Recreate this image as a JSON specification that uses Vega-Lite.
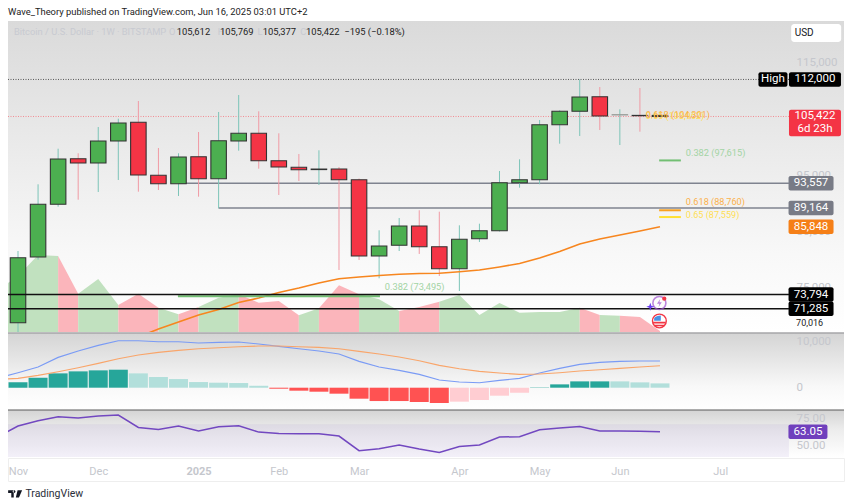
{
  "$schema": "https://vega.github.io/schema/vega-lite/v6.json",
  "padding": {"left": 7, "right": 7, "top": 7, "bottom": 0},
  "background": "white",
  "spacing": 0,
  "config": {
    "font": "Roboto",
    "view": {"stroke": null},
    "concat": {"spacing": 0},
    "text": {"font": "Roboto"}
  },
  "datasets": {
    "candles": [
      {"date": "2024-11-04", "open": 68792, "high": 81527, "low": 66900, "close": 80337, "dir": "up", "ma": null},
      {"date": "2024-11-11", "open": 80462, "high": 93375, "low": 80000, "close": 89822, "dir": "up", "ma": null},
      {"date": "2024-11-18", "open": 89822, "high": 99700, "low": 89396, "close": 97869, "dir": "up", "ma": null},
      {"date": "2024-11-25", "open": 97922, "high": 98880, "low": 90640, "close": 97158, "dir": "down", "ma": null},
      {"date": "2024-12-02", "open": 97158, "high": 103552, "low": 92007, "close": 101066, "dir": "up", "ma": null},
      {"date": "2024-12-09", "open": 101066, "high": 105027, "low": 94139, "close": 104263, "dir": "up", "ma": null},
      {"date": "2024-12-16", "open": 104387, "high": 108170, "low": 92060, "close": 95027, "dir": "down", "ma": 66250},
      {"date": "2024-12-23", "open": 94973, "high": 99822, "low": 92362, "close": 93481, "dir": "down", "ma": 67675},
      {"date": "2024-12-30", "open": 93481, "high": 98880, "low": 91297, "close": 98224, "dir": "up", "ma": 68920},
      {"date": "2025-01-06", "open": 98277, "high": 102664, "low": 91172, "close": 94369, "dir": "down", "ma": 70160},
      {"date": "2025-01-13", "open": 94369, "high": 106217, "low": 89112, "close": 101119, "dir": "up", "ma": 71140},
      {"date": "2025-01-20", "open": 101066, "high": 109236, "low": 99343, "close": 102433, "dir": "up", "ma": 72380},
      {"date": "2025-01-27", "open": 102433, "high": 106341, "low": 96146, "close": 97567, "dir": "down", "ma": 73180},
      {"date": "2025-02-03", "open": 97567, "high": 102433, "low": 91474, "close": 96447, "dir": "down", "ma": 74160},
      {"date": "2025-02-10", "open": 96394, "high": 98757, "low": 93961, "close": 95968, "dir": "down", "ma": 74960},
      {"date": "2025-02-17", "open": 95990, "high": 99414, "low": 93250, "close": 96080, "dir": "up", "ma": 75850},
      {"date": "2025-02-24", "open": 96092, "high": 96447, "low": 78153, "close": 94192, "dir": "down", "ma": 76610},
      {"date": "2025-03-03", "open": 94192, "high": 94400, "low": 79929, "close": 80639, "dir": "down", "ma": 76910},
      {"date": "2025-03-10", "open": 80639, "high": 85204, "low": 76678, "close": 82416, "dir": "up", "ma": 77180},
      {"date": "2025-03-17", "open": 82540, "high": 87389, "low": 81527, "close": 85968, "dir": "up", "ma": 77390},
      {"date": "2025-03-24", "open": 85968, "high": 88757, "low": 81000, "close": 82291, "dir": "down", "ma": 77520},
      {"date": "2025-03-31", "open": 82291, "high": 88508, "low": 77087, "close": 78384, "dir": "down", "ma": 77570},
      {"date": "2025-04-07", "open": 78384, "high": 86092, "low": 74423, "close": 83606, "dir": "up", "ma": 77850},
      {"date": "2025-04-14", "open": 83712, "high": 86376, "low": 83126, "close": 85133, "dir": "up", "ma": 78150},
      {"date": "2025-04-21", "open": 85133, "high": 95737, "low": 85000, "close": 93659, "dir": "up", "ma": 78690},
      {"date": "2025-04-28", "open": 93659, "high": 97815, "low": 92771, "close": 94192, "dir": "up", "ma": 79310},
      {"date": "2025-05-05", "open": 94192, "high": 104796, "low": 93375, "close": 103961, "dir": "up", "ma": 80290},
      {"date": "2025-05-12", "open": 103961, "high": 106519, "low": 100586, "close": 106341, "dir": "up", "ma": 81440},
      {"date": "2025-05-19", "open": 106341, "high": 112000, "low": 101954, "close": 108881, "dir": "up", "ma": 82770},
      {"date": "2025-05-26", "open": 108935, "high": 110657, "low": 103020, "close": 105506, "dir": "down", "ma": 83660},
      {"date": "2025-06-02", "open": 105737, "high": 106696, "low": 100355, "close": 105700, "dir": "up", "ma": 84370},
      {"date": "2025-06-09", "open": 105612, "high": 110480, "low": 102717, "close": 105560, "dir": "down", "ma": 85080},
      {"date": "2025-06-16", "open": 105612, "high": 105769, "low": 105377, "close": 105422, "dir": "down", "ma": 85848}
    ],
    "volume": [
      {"date": "2024-10-28", "vol": 42, "seg": 1, "dir": "up"},
      {"date": "2024-11-04", "vol": 56, "seg": 1, "dir": "up"},
      {"date": "2024-11-11", "vol": 77, "seg": 1, "dir": "up"},
      {"date": "2024-11-18", "vol": 76, "seg": 1, "dir": "up"},
      {"date": "2024-11-18", "vol": 76, "seg": 2, "dir": "down"},
      {"date": "2024-11-25", "vol": 38.3, "seg": 2, "dir": "down"},
      {"date": "2024-11-25", "vol": 38.3, "seg": 3, "dir": "up"},
      {"date": "2024-12-02", "vol": 53, "seg": 3, "dir": "up"},
      {"date": "2024-12-09", "vol": 27, "seg": 3, "dir": "up"},
      {"date": "2024-12-09", "vol": 27, "seg": 4, "dir": "down"},
      {"date": "2024-12-16", "vol": 38.3, "seg": 4, "dir": "down"},
      {"date": "2024-12-23", "vol": 24.3, "seg": 4, "dir": "down"},
      {"date": "2024-12-23", "vol": 24.3, "seg": 5, "dir": "up"},
      {"date": "2024-12-30", "vol": 17.7, "seg": 5, "dir": "up"},
      {"date": "2024-12-30", "vol": 17.7, "seg": 6, "dir": "down"},
      {"date": "2025-01-06", "vol": 25, "seg": 6, "dir": "down"},
      {"date": "2025-01-06", "vol": 25, "seg": 7, "dir": "up"},
      {"date": "2025-01-13", "vol": 34.3, "seg": 7, "dir": "up"},
      {"date": "2025-01-20", "vol": 37.7, "seg": 7, "dir": "up"},
      {"date": "2025-01-20", "vol": 37.7, "seg": 8, "dir": "down"},
      {"date": "2025-01-27", "vol": 29.3, "seg": 8, "dir": "down"},
      {"date": "2025-02-03", "vol": 31, "seg": 8, "dir": "down"},
      {"date": "2025-02-10", "vol": 16.7, "seg": 8, "dir": "down"},
      {"date": "2025-02-10", "vol": 16.7, "seg": 9, "dir": "up"},
      {"date": "2025-02-17", "vol": 23.7, "seg": 9, "dir": "up"},
      {"date": "2025-02-17", "vol": 23.7, "seg": 10, "dir": "down"},
      {"date": "2025-02-24", "vol": 46.7, "seg": 10, "dir": "down"},
      {"date": "2025-03-03", "vol": 37.7, "seg": 10, "dir": "down"},
      {"date": "2025-03-03", "vol": 37.7, "seg": 11, "dir": "up"},
      {"date": "2025-03-10", "vol": 32.7, "seg": 11, "dir": "up"},
      {"date": "2025-03-17", "vol": 21, "seg": 11, "dir": "up"},
      {"date": "2025-03-17", "vol": 21, "seg": 12, "dir": "down"},
      {"date": "2025-03-24", "vol": 25, "seg": 12, "dir": "down"},
      {"date": "2025-03-31", "vol": 30.3, "seg": 12, "dir": "down"},
      {"date": "2025-03-31", "vol": 30.3, "seg": 13, "dir": "up"},
      {"date": "2025-04-07", "vol": 37, "seg": 13, "dir": "up"},
      {"date": "2025-04-14", "vol": 17, "seg": 13, "dir": "up"},
      {"date": "2025-04-21", "vol": 29, "seg": 13, "dir": "up"},
      {"date": "2025-04-28", "vol": 19.3, "seg": 13, "dir": "up"},
      {"date": "2025-05-05", "vol": 20, "seg": 13, "dir": "up"},
      {"date": "2025-05-12", "vol": 20, "seg": 13, "dir": "up"},
      {"date": "2025-05-19", "vol": 24.3, "seg": 13, "dir": "up"},
      {"date": "2025-05-19", "vol": 24.3, "seg": 14, "dir": "down"},
      {"date": "2025-05-26", "vol": 17, "seg": 14, "dir": "down"},
      {"date": "2025-05-26", "vol": 17, "seg": 15, "dir": "up"},
      {"date": "2025-06-02", "vol": 16.3, "seg": 15, "dir": "up"},
      {"date": "2025-06-02", "vol": 16.3, "seg": 16, "dir": "down"},
      {"date": "2025-06-09", "vol": 15, "seg": 16, "dir": "down"},
      {"date": "2025-06-16", "vol": 1, "seg": 16, "dir": "down"}
    ],
    "levels": [
      {"from": "2024-12-30", "to": "2025-07-31", "level": 93557},
      {"from": "2025-01-13", "to": "2025-07-31", "level": 89164}
    ],
    "supports": [
      {"from": "2024-10-31T12:15:00Z", "to": "2025-07-31", "level": 73794},
      {"from": "2024-10-31T12:15:00Z", "to": "2025-07-31", "level": 71285}
    ],
    "fib": [
      {"from": "2024-12-29T19:00:00Z", "to": "2025-03-10T07:00:00Z", "level": 73495, "ratio": "0.382"},
      {"from": "2025-06-15T17:00:00Z", "to": "2025-06-23T07:00:00Z", "level": 97615, "ratio": "0.382"},
      {"from": "2025-06-15T17:00:00Z", "to": "2025-06-23T07:00:00Z", "level": 88760, "ratio": "0.618"},
      {"from": "2025-06-15T17:00:00Z", "to": "2025-06-23T07:00:00Z", "level": 87559, "ratio": "0.65"}
    ],
    "notes": [
      {"date": "2024-10-31T12:15:00Z", "price": 123960, "text": "Wave_Theory published on TradingView.com, Jun 16, 2025 03:01 UTC+2", "kind": "ink"},
      {"date": "2024-11-02T14:24:00Z", "price": 120426, "text": "Bitcoin / U.S. Dollar · 1W · BITSTAMP", "kind": "muted"},
      {"date": "2024-12-26T17:00:00Z", "price": 120426, "text": "O", "kind": "muted"},
      {"date": "2024-12-29T09:00:00Z", "price": 120426, "text": "105,612", "kind": "ink"},
      {"date": "2025-01-12T17:00:00Z", "price": 120426, "text": "H", "kind": "muted"},
      {"date": "2025-01-13T12:00:00Z", "price": 120426, "text": "105,769", "kind": "ink"},
      {"date": "2025-01-26T14:00:00Z", "price": 120426, "text": "L", "kind": "muted"},
      {"date": "2025-01-28T09:00:00Z", "price": 120426, "text": "105,377", "kind": "ink"},
      {"date": "2025-02-10T12:00:00Z", "price": 120426, "text": "C", "kind": "muted"},
      {"date": "2025-02-12T12:00:00Z", "price": 120426, "text": "105,422", "kind": "ink"},
      {"date": "2025-02-25T21:00:00Z", "price": 120426, "text": "−195 (−0.18%)", "kind": "ink"},
      {"date": "2025-03-12T00:00:00Z", "price": 75090, "text": "0.382 (73,495)", "kind": "green"},
      {"date": "2025-06-25T00:00:00Z", "price": 98930, "text": "0.382 (97,615)", "kind": "green"},
      {"date": "2025-06-11T00:00:00Z", "price": 105500, "text": "0.65 (103,962)", "kind": "yellow"},
      {"date": "2025-06-11T00:00:00Z", "price": 105600, "text": "0.618 (104,301)", "kind": "orange"},
      {"date": "2025-06-25T00:00:00Z", "price": 87900, "text": "0.65 (87,559)", "kind": "yellow"},
      {"date": "2025-06-25T00:00:00Z", "price": 90230, "text": "0.618 (88,760)", "kind": "orange"},
      {"date": "2025-08-02T12:00:00Z", "price": 68742, "text": "70,016", "kind": "axis"}
    ],
    "tags": [
      {"label": "93,557", "price": 93557, "tag": "level"},
      {"label": "89,164", "price": 89164, "tag": "level"},
      {"label": "85,848", "price": 85848, "tag": "ma"},
      {"label": "73,794", "price": 73794, "tag": "support"},
      {"label": "71,285", "price": 71285, "tag": "support"}
    ],
    "macd": [
      {"date": "2024-10-28", "macd": 2100, "signal": 1810},
      {"date": "2024-11-04", "macd": 3260, "signal": 2030, "hist": 1160, "shade": "up"},
      {"date": "2024-11-11", "macd": 4490, "signal": 2680, "hist": 2170, "shade": "up"},
      {"date": "2024-11-18", "macd": 6590, "signal": 3480, "hist": 3115, "shade": "up"},
      {"date": "2024-11-25", "macd": 7970, "signal": 4350, "hist": 3550, "shade": "up"},
      {"date": "2024-12-02", "macd": 9200, "signal": 5290, "hist": 3770, "shade": "up"},
      {"date": "2024-12-09", "macd": 10220, "signal": 6300, "hist": 3910, "shade": "up"},
      {"date": "2024-12-16", "macd": 10220, "signal": 7100, "hist": 3115, "shade": "upfade"},
      {"date": "2024-12-23", "macd": 10000, "signal": 7680, "hist": 2320, "shade": "upfade"},
      {"date": "2024-12-30", "macd": 10000, "signal": 8115, "hist": 1880, "shade": "upfade"},
      {"date": "2025-01-06", "macd": 9710, "signal": 8480, "hist": 1230, "shade": "upfade"},
      {"date": "2025-01-13", "macd": 9850, "signal": 8695, "hist": 1090, "shade": "upfade"},
      {"date": "2025-01-20", "macd": 9930, "signal": 8910, "hist": 1015, "shade": "upfade"},
      {"date": "2025-01-27", "macd": 9490, "signal": 9060, "hist": 435, "shade": "upfade"},
      {"date": "2025-02-03", "macd": 8985, "signal": 9060, "hist": -220, "shade": "down"},
      {"date": "2025-02-10", "macd": 8480, "signal": 8910, "hist": -650, "shade": "down"},
      {"date": "2025-02-17", "macd": 7970, "signal": 8770, "hist": -870, "shade": "down"},
      {"date": "2025-02-24", "macd": 7320, "signal": 8480, "hist": -1300, "shade": "down"},
      {"date": "2025-03-03", "macd": 5720, "signal": 7900, "hist": -2390, "shade": "down"},
      {"date": "2025-03-10", "macd": 4490, "signal": 7320, "hist": -2900, "shade": "down"},
      {"date": "2025-03-17", "macd": 3770, "signal": 6670, "hist": -2900, "shade": "down"},
      {"date": "2025-03-24", "macd": 2900, "signal": 5870, "hist": -3115, "shade": "down"},
      {"date": "2025-03-31", "macd": 1670, "signal": 4855, "hist": -3330, "shade": "down"},
      {"date": "2025-04-07", "macd": 1230, "signal": 4130, "hist": -3040, "shade": "downfade"},
      {"date": "2025-04-14", "macd": 1090, "signal": 3550, "hist": -2680, "shade": "downfade"},
      {"date": "2025-04-21", "macd": 1590, "signal": 3190, "hist": -1740, "shade": "downfade"},
      {"date": "2025-04-28", "macd": 2030, "signal": 2900, "hist": -1090, "shade": "downfade"},
      {"date": "2025-05-05", "macd": 3190, "signal": 2970, "hist": 70, "shade": "up"},
      {"date": "2025-05-12", "macd": 4200, "signal": 3260, "hist": 725, "shade": "up"},
      {"date": "2025-05-19", "macd": 5070, "signal": 3620, "hist": 1375, "shade": "up"},
      {"date": "2025-05-26", "macd": 5510, "signal": 3910, "hist": 1375, "shade": "up"},
      {"date": "2025-06-02", "macd": 5720, "signal": 4200, "hist": 1375, "shade": "upfade"},
      {"date": "2025-06-09", "macd": 5800, "signal": 4490, "hist": 1160, "shade": "upfade"},
      {"date": "2025-06-16", "macd": 5800, "signal": 4780, "hist": 940, "shade": "upfade"}
    ],
    "rsi": [
      {"date": "2024-10-28", "rsi": 58.4},
      {"date": "2024-11-04", "rsi": 68.35},
      {"date": "2024-11-11", "rsi": 73.35},
      {"date": "2024-11-18", "rsi": 77.1},
      {"date": "2024-11-25", "rsi": 75.8},
      {"date": "2024-12-02", "rsi": 77.7},
      {"date": "2024-12-09", "rsi": 78.65},
      {"date": "2024-12-16", "rsi": 67.1},
      {"date": "2024-12-23", "rsi": 65.2},
      {"date": "2024-12-30", "rsi": 68.35},
      {"date": "2025-01-06", "rsi": 63.7},
      {"date": "2025-01-13", "rsi": 67.7},
      {"date": "2025-01-20", "rsi": 68.7},
      {"date": "2025-01-27", "rsi": 62.7},
      {"date": "2025-02-03", "rsi": 61.5},
      {"date": "2025-02-10", "rsi": 61.2},
      {"date": "2025-02-17", "rsi": 61.2},
      {"date": "2025-02-24", "rsi": 59},
      {"date": "2025-03-03", "rsi": 45.3},
      {"date": "2025-03-10", "rsi": 47.1},
      {"date": "2025-03-17", "rsi": 50.6},
      {"date": "2025-03-24", "rsi": 46.8},
      {"date": "2025-03-31", "rsi": 43.7},
      {"date": "2025-04-07", "rsi": 49.3},
      {"date": "2025-04-14", "rsi": 50.6},
      {"date": "2025-04-21", "rsi": 58.1},
      {"date": "2025-04-28", "rsi": 58.4},
      {"date": "2025-05-05", "rsi": 64.9},
      {"date": "2025-05-12", "rsi": 66.5},
      {"date": "2025-05-19", "rsi": 68},
      {"date": "2025-05-26", "rsi": 63.7},
      {"date": "2025-06-02", "rsi": 63.7},
      {"date": "2025-06-09", "rsi": 63.4},
      {"date": "2025-06-16", "rsi": 63.05}
    ]
  },
  "vconcat": [
    {
      "width": 836,
      "height": 311,
      "view": {"stroke": null, "fill": {"gradient": "linear", "x1": 0, "y1": 0, "x2": 0, "y2": 1, "stops": [{"offset": 0, "color": "#dadada"}, {"offset": 0.75, "color": "#f8f8f8"}, {"offset": 1, "color": "#ffffff"}]}},
      "resolve": {"scale": {"y": "independent", "color": "independent"}},
      "layer": [
        {
          "data": {"name": "volume"},
          "mark": {"type": "area", "clip": true},
          "encoding": {
            "x": {"field": "date", "type": "temporal", "axis": null, "scale": {"type": "utc", "nice": false, "padding": 0, "domain": ["2024-10-31T12:15:00Z", "2025-08-19T05:00:00Z"]}},
            "y": {"field": "vol", "type": "quantitative", "axis": null, "stack": null, "scale": {"domain": [0, 311], "nice": false}},
            "detail": {"field": "seg"},
            "color": {"field": "dir", "type": "nominal", "legend": null, "scale": {"domain": ["up", "down"], "range": ["#c1e1bf", "#fbb5bb"]}}
          }
        },
        {
          "resolve": {"scale": {"color": "independent"}},
          "layer": [
            {
              "data": {"name": "levels"},
              "mark": {"type": "rule", "color": "#7f838f", "strokeWidth": 1.4},
              "encoding": {
                "x": {"field": "from", "type": "temporal", "axis": null, "scale": {"type": "utc", "nice": false, "padding": 0, "domain": ["2024-10-31T12:15:00Z", "2025-08-19T05:00:00Z"]}},
                "x2": {"field": "to"},
                "y": {
                  "field": "level", "type": "quantitative",
                  "scale": {"domain": [67140, 122380], "nice": false, "zero": false},
                  "axis": {"orient": "right", "offset": -48, "title": null, "domain": false, "ticks": false, "grid": false, "labelPadding": 0, "labelColor": "#c5c7cd", "labelFontSize": 11.5, "labelOverlap": false, "format": ",d", "values": [115000, 110000, 105000, 100000, 95000, 90000, 85000, 80000, 75000]}
                }
              }
            },
            {
              "data": {"values": [{"date": "2024-10-31T12:15:00Z", "to": "2025-07-31", "price": 112000}]},
              "mark": {"type": "rule", "color": "#555", "strokeWidth": 1, "strokeDash": [1, 1.5]},
              "encoding": {"x": {"field": "date", "type": "temporal"}, "x2": {"field": "to"}, "y": {"field": "price", "type": "quantitative"}}
            },
            {
              "data": {"values": [{"date": "2024-10-31T12:15:00Z", "to": "2025-07-31", "price": 105422}]},
              "mark": {"type": "rule", "color": "#f28b93", "strokeWidth": 1, "strokeDash": [1, 1.5]},
              "encoding": {"x": {"field": "date", "type": "temporal"}, "x2": {"field": "to"}, "y": {"field": "price", "type": "quantitative"}}
            },
            {
              "data": {"name": "candles"},
              "mark": {"type": "rule", "strokeWidth": 1, "clip": true},
              "encoding": {
                "x": {"field": "date", "type": "temporal"},
                "y": {"field": "low", "type": "quantitative"},
                "y2": {"field": "high"},
                "color": {"field": "dir", "type": "nominal", "legend": null, "scale": {"domain": ["up", "down"], "range": ["#7cc4b8", "#f09aa4"]}}
              }
            },
            {
              "data": {"name": "candles"},
              "mark": {"type": "bar", "width": 15.5, "strokeWidth": 1.1},
              "encoding": {
                "x": {"field": "date", "type": "temporal"},
                "y": {"field": "open", "type": "quantitative"},
                "y2": {"field": "close"},
                "color": {"field": "dir", "type": "nominal", "legend": null, "scale": {"domain": ["up", "down"], "range": ["#4caf50", "#f43445"]}},
                "stroke": {"condition": {"test": "year(datum.date) == 2025 && month(datum.date) == 5 && utcdate(datum.date) == 2", "value": "#9a9a9a"}, "value": "#333333"}
              }
            },
            {
              "data": {"name": "candles"},
              "mark": {"type": "line", "color": "#f7861f", "strokeWidth": 1.6, "clip": true},
              "encoding": {"x": {"field": "date", "type": "temporal"}, "y": {"field": "ma", "type": "quantitative"}}
            },
            {
              "data": {"name": "fib"},
              "mark": {"type": "rule", "strokeWidth": 2},
              "encoding": {
                "x": {"field": "from", "type": "temporal"},
                "x2": {"field": "to"},
                "y": {"field": "level", "type": "quantitative"},
                "color": {"field": "ratio", "type": "nominal", "legend": null, "scale": {"domain": ["0.382", "0.618", "0.65"], "range": ["#72bf73", "#f9a11f", "#ffe033"]}}
              }
            },
            {
              "data": {"name": "supports"},
              "mark": {"type": "rule", "color": "#111111", "strokeWidth": 1.5},
              "encoding": {"x": {"field": "from", "type": "temporal"}, "x2": {"field": "to"}, "y": {"field": "level", "type": "quantitative"}}
            },
            {
              "data": {"name": "notes"},
              "mark": {"type": "text", "align": "left", "baseline": "middle"},
              "encoding": {
                "x": {"field": "date", "type": "temporal"},
                "y": {"field": "price", "type": "quantitative"},
                "text": {"field": "text"},
                "color": {"field": "kind", "type": "nominal", "legend": null, "scale": {"domain": ["ink", "muted", "green", "orange", "yellow", "axis"], "range": ["#222222", "#c8cad1", "#a3d4a4", "#fbb04a", "#ffdf55", "#222222"]}},
                "size": {"field": "kind", "type": "nominal", "legend": null, "scale": {"domain": ["ink", "muted", "green", "orange", "yellow", "axis"], "range": [9.4, 9, 10, 10, 10, 11.5]}}
              }
            },
            {
              "data": {"name": "tags"},
              "mark": {"type": "rect", "width": 45, "height": 14.5, "cornerRadius": 2},
              "encoding": {
                "x": {"datum": {"year": 2025, "month": 8, "date": 7, "hours": 17, "utc": true}, "type": "temporal"},
                "y": {"field": "price", "type": "quantitative"},
                "color": {"field": "tag", "type": "nominal", "legend": null, "scale": {"domain": ["level", "ma", "support"], "range": ["#787b86", "#f57f17", "#000000"]}}
              }
            },
            {
              "data": {"name": "tags"},
              "mark": {"type": "text", "color": "#ffffff", "fontSize": 11.5},
              "encoding": {
                "x": {"datum": {"year": 2025, "month": 8, "date": 7, "hours": 17, "utc": true}, "type": "temporal"},
                "y": {"field": "price", "type": "quantitative"},
                "text": {"field": "label"}
              }
            },
            {
              "data": {"values": [{"label": "112,000", "price": 112000}]},
              "layer": [
                {"mark": {"type": "rect", "width": 52, "height": 14.5, "cornerRadius": 2, "color": "#000000"}},
                {"mark": {"type": "text", "color": "#ffffff", "fontSize": 11.5}, "encoding": {"text": {"field": "label"}}}
              ],
              "encoding": {
                "x": {"datum": {"year": 2025, "month": 8, "date": 9, "hours": 2, "utc": true}, "type": "temporal"},
                "y": {"field": "price", "type": "quantitative"}
              }
            },
            {
              "data": {"values": [{"label": "High", "price": 112000}]},
              "layer": [
                {"mark": {"type": "rect", "width": 29, "height": 14.5, "cornerRadius": 2, "color": "#000000"}},
                {"mark": {"type": "text", "color": "#ffffff", "fontSize": 11.5}, "encoding": {"text": {"field": "label"}}}
              ],
              "encoding": {
                "x": {"datum": {"year": 2025, "month": 7, "date": 25, "hours": 10, "utc": true}, "type": "temporal"},
                "y": {"field": "price", "type": "quantitative"}
              }
            },
            {
              "data": {"values": [{"price": 104263}]},
              "mark": {"type": "rect", "width": 52, "height": 26.5, "cornerRadius": 2, "color": "#f43445"},
              "encoding": {
                "x": {"datum": {"year": 2025, "month": 8, "date": 9, "hours": 2, "utc": true}, "type": "temporal"},
                "y": {"field": "price", "type": "quantitative"}
              }
            },
            {
              "data": {"values": [{"label": "105,422", "price": 105422}, {"label": "6d 23h", "price": 103200}]},
              "mark": {"type": "text", "color": "#ffffff", "fontSize": 11.5},
              "encoding": {
                "x": {"datum": {"year": 2025, "month": 8, "date": 9, "hours": 2, "utc": true}, "type": "temporal"},
                "y": {"field": "price", "type": "quantitative"},
                "text": {"field": "label"}
              }
            },
            {
              "data": {"values": [{"label": "USD", "price": 120250}]},
              "layer": [
                {"mark": {"type": "rect", "width": 50, "height": 18, "cornerRadius": 3, "color": "#ffffff"}},
                {"mark": {"type": "text", "color": "#131722", "fontSize": 10, "dx": -12}, "encoding": {"text": {"field": "label"}}}
              ],
              "encoding": {
                "x": {"datum": {"year": 2025, "month": 8, "date": 9, "hours": 12, "utc": true}, "type": "temporal"},
                "y": {"field": "price", "type": "quantitative"}
              }
            },
            {
              "data": {"values": [{"date": "2025-06-15T19:00:00Z", "price": 72294}]},
              "layer": [
                {"mark": {"type": "point", "shape": "circle", "size": 170, "filled": false, "color": "#a155d1", "strokeWidth": 1.6}},
                {"mark": {"type": "point", "shape": "M0.2 -1L-0.6 0.2H0L-0.2 1L0.6 -0.2H0Z", "size": 64, "filled": true, "color": "#9c4fd0"}}
              ],
              "encoding": {"x": {"field": "date", "type": "temporal"}, "y": {"field": "price", "type": "quantitative"}}
            },
            {
              "data": {"values": [{"date": "2025-06-17T12:00:00Z", "price": 73058}]},
              "mark": {"type": "point", "shape": "circle", "size": 18, "filled": true, "color": "#f23645", "opacity": 1},
              "encoding": {"x": {"field": "date", "type": "temporal"}, "y": {"field": "price", "type": "quantitative"}}
            },
            {
              "data": {"values": [{"date": "2025-06-12T15:00:00Z", "price": 71638}]},
              "mark": {"type": "point", "shape": "M0 -1L0.25 -0.25L1 0L0.25 0.25L0 1L-0.25 0.25L-1 0L-0.25 -0.25Z", "size": 64, "filled": true, "color": "#6a3df0", "opacity": 1},
              "encoding": {"x": {"field": "date", "type": "temporal"}, "y": {"field": "price", "type": "quantitative"}}
            },
            {
              "data": {"values": [{"date": "2025-06-15T19:00:00Z", "price": 69098}]},
              "layer": [
                {"mark": {"type": "point", "shape": "circle", "size": 190, "filled": true, "fill": "#ffffff", "stroke": "#f23645", "strokeWidth": 1.4, "opacity": 1}},
                {"mark": {"type": "point", "shape": "M-0.9 0.1H0.9V0.35H-0.9ZM-0.7 0.55H0.7V0.75H-0.7Z", "size": 196, "filled": true, "color": "#f23645", "opacity": 1}},
                {"mark": {"type": "point", "shape": "M-0.75 -0.05V-0.4Q-0.45 -0.8 0.2 -0.8V-0.05Z", "size": 196, "filled": true, "color": "#4a90e2", "opacity": 1}}
              ],
              "encoding": {"x": {"field": "date", "type": "temporal"}, "y": {"field": "price", "type": "quantitative"}}
            }
          ]
        }
      ]
    },
    {
      "width": 836,
      "height": 76,
      "view": {"stroke": null, "fill": {"gradient": "linear", "x1": 0, "y1": 0, "x2": 0, "y2": 1, "stops": [{"offset": 0, "color": "#d4d4d4"}, {"offset": 0.7, "color": "#f8f8f8"}, {"offset": 1, "color": "#ffffff"}]}},
      "data": {"name": "macd"},
      "layer": [
        {
          "mark": {"type": "bar", "width": 19},
          "encoding": {
            "x": {"field": "date", "type": "temporal", "axis": null, "scale": {"type": "utc", "nice": false, "padding": 0, "domain": ["2024-10-31T12:15:00Z", "2025-08-19T05:00:00Z"]}},
            "y": {
              "field": "hist", "type": "quantitative",
              "scale": {"domain": [-4630, 11890], "nice": false, "zero": false},
              "axis": {"orient": "right", "offset": -48, "title": null, "domain": false, "ticks": false, "grid": false, "labelPadding": 0, "labelColor": "#c5c7cd", "labelFontSize": 11.5, "labelOverlap": false, "format": ",d", "values": [10000, 0]}
            },
            "y2": {"datum": 0},
            "color": {"field": "shade", "type": "nominal", "legend": null, "scale": {"domain": ["up", "upfade", "down", "downfade"], "range": ["#26a69a", "#b2dfdb", "#ff5252", "#ffcdd2"]}}
          }
        },
        {
          "mark": {"type": "line", "color": "#7a9bf5", "strokeWidth": 1.1, "clip": true},
          "encoding": {"x": {"field": "date", "type": "temporal"}, "y": {"field": "macd", "type": "quantitative"}}
        },
        {
          "mark": {"type": "line", "color": "#f9a56a", "strokeWidth": 1.1, "clip": true},
          "encoding": {"x": {"field": "date", "type": "temporal"}, "y": {"field": "signal", "type": "quantitative"}}
        },
        {
          "data": {"values": [{"top": 11890}]},
          "mark": {"type": "rule", "color": "#a6a6a8", "strokeWidth": 1.6},
          "encoding": {"y": {"field": "top", "type": "quantitative"}}
        }
      ]
    },
    {
      "width": 836,
      "height": 47,
      "view": {"stroke": null, "fill": {"gradient": "linear", "x1": 0, "y1": 0, "x2": 0, "y2": 1, "stops": [{"offset": 0, "color": "#d4d4d4"}, {"offset": 0.4, "color": "#ececec"}, {"offset": 1, "color": "#ffffff"}]}},
      "layer": [
        {
          "data": {"values": [{"from": "2024-10-31T12:15:00Z", "to": "2025-07-31", "upper": 70, "lower": 30}]},
          "mark": {"type": "rect", "color": "#7e57c2", "opacity": 0.09, "clip": true},
          "encoding": {
            "x": {"field": "from", "type": "temporal", "axis": null, "scale": {"type": "utc", "nice": false, "padding": 0, "domain": ["2024-10-31T12:15:00Z", "2025-08-19T05:00:00Z"]}},
            "x2": {"field": "to"},
            "y": {
              "field": "upper", "type": "quantitative",
              "scale": {"domain": [39.4, 83.4], "nice": false, "zero": false},
              "axis": {"orient": "right", "offset": -48, "title": null, "domain": false, "ticks": false, "grid": false, "labelPadding": 0, "labelColor": "#c5c7cd", "labelFontSize": 11.5, "labelOverlap": false, "format": ".2f", "values": [75, 50]}
            },
            "y2": {"field": "lower"}
          }
        },
        {
          "data": {"name": "rsi"},
          "mark": {"type": "line", "color": "#7248c0", "strokeWidth": 1.5, "clip": true},
          "encoding": {"x": {"field": "date", "type": "temporal"}, "y": {"field": "rsi", "type": "quantitative"}}
        },
        {
          "data": {"values": [{"top": 83.4}]},
          "mark": {"type": "rule", "color": "#5a5a5a", "strokeWidth": 1},
          "encoding": {"y": {"field": "top", "type": "quantitative"}}
        },
        {
          "data": {"values": [{"label": "63.05", "value": 63.05}]},
          "layer": [
            {"mark": {"type": "rect", "width": 39, "height": 14.5, "cornerRadius": 2, "color": "#7040bd"}},
            {"mark": {"type": "text", "color": "#ffffff", "fontSize": 11.5}, "encoding": {"text": {"field": "label"}}}
          ],
          "encoding": {
            "x": {"datum": {"year": 2025, "month": 8, "date": 6, "hours": 15, "utc": true}, "type": "temporal"},
            "y": {"field": "value", "type": "quantitative"}
          }
        }
      ]
    },
    {
      "width": 836,
      "height": 23,
      "view": {"stroke": "#eeeeee", "fill": "#ffffff"},
      "layer": [
        {
          "data": {"values": [{"date": "2024-11-06T14:00:00Z", "row": -0.565, "label": "TradingView"}]},
          "mark": {"type": "text", "align": "left", "fontSize": 10.5, "color": "#2a2e39"},
          "encoding": {
            "x": {
              "field": "date", "type": "temporal", "title": null,
              "scale": {"type": "utc", "nice": false, "padding": 0, "domain": ["2024-10-31T12:15:00Z", "2025-08-19T05:00:00Z"]},
              "axis": {
                "orient": "bottom", "offset": -23, "domain": false, "ticks": false, "grid": false, "labelPadding": 7, "labelColor": "#c5c7cd", "labelFontSize": 11,
                "labelFlush": false, "labelOverlap": false,
                "labelFontWeight": {"condition": {"test": "utcFormat(datum.value, '%m') == '01'", "value": "bold"}, "value": "normal"},
                "labelExpr": "utcFormat(datum.value, '%m') == '01' ? '2025' : utcFormat(datum.value, '%b')",
                "values": [
                  {"year": 2024, "month": 11, "date": 4, "utc": true},
                  {"year": 2024, "month": 12, "date": 2, "utc": true},
                  {"year": 2025, "month": 1, "date": 6, "utc": true},
                  {"year": 2025, "month": 2, "date": 3, "utc": true},
                  {"year": 2025, "month": 3, "date": 3, "utc": true},
                  {"year": 2025, "month": 4, "date": 7, "utc": true},
                  {"year": 2025, "month": 5, "date": 5, "utc": true},
                  {"year": 2025, "month": 6, "date": 2, "utc": true},
                  {"year": 2025, "month": 7, "date": 7, "utc": true}
                ]
              }
            },
            "y": {"field": "row", "type": "quantitative", "axis": null, "scale": {"domain": [0, 1], "nice": false}},
            "text": {"field": "label"}
          }
        },
        {
          "data": {"values": [{"date": "2024-11-03T00:00:00Z", "row": -0.565}]},
          "mark": {"type": "point", "shape": "M-1 -0.55H-0.2V0.5H-0.55V-0.15H-1ZM0.05 -0.35A0.2 0.2 0 1 0 0.05 -0.34ZM0.35 -0.55H1L0.55 0.5H0.1Z", "size": 196, "filled": true, "color": "#131722", "opacity": 1},
          "encoding": {"x": {"field": "date", "type": "temporal"}, "y": {"field": "row", "type": "quantitative"}}
        }
      ]
    }
  ]
}
